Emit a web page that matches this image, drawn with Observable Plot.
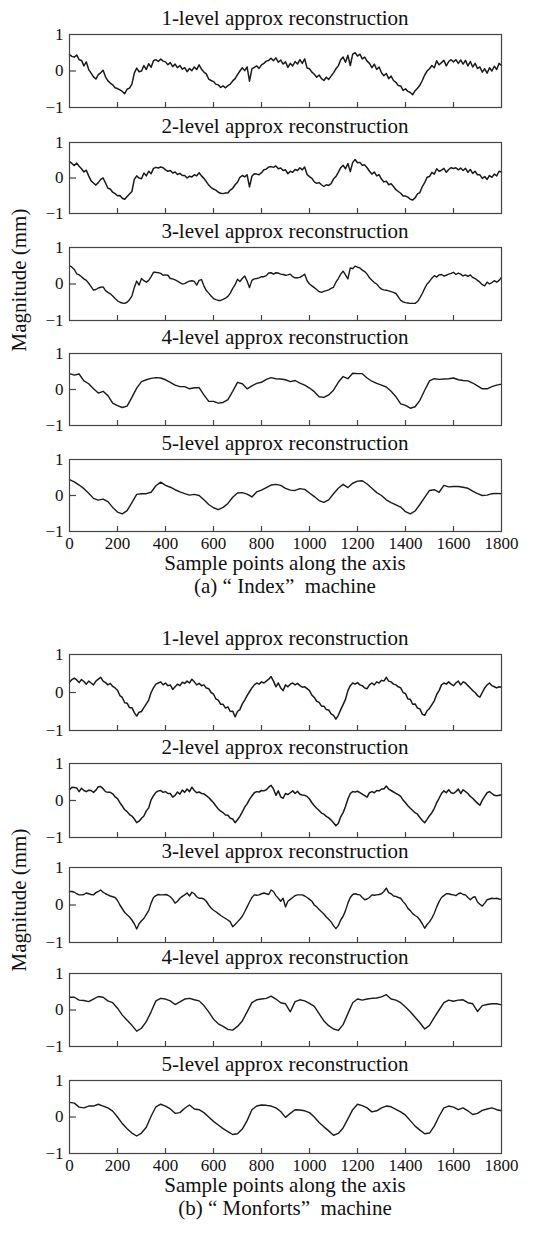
<!DOCTYPE html>
<html><head><meta charset="utf-8">
<script src="https://cdn.jsdelivr.net/npm/d3@7"></script>
<script src="https://cdn.jsdelivr.net/npm/@observablehq/plot@0.6"></script>
<style>
body{margin:0;background:#fff;}
#root{position:relative;width:535px;height:1244px;font-family:"Liberation Serif","Times New Roman",serif;color:#111;overflow:hidden;}
.t{position:absolute;left:0;width:570px;text-align:center;font-size:21px;line-height:20px;white-space:pre;}
.yl{position:absolute;font-size:21px;line-height:20px;white-space:nowrap;transform:translate(-50%,-50%) rotate(-90deg);}
.p{position:absolute;left:0;}
</style></head><body><div id="root"></div>
<script>
const xTicks = [0,200,400,600,800,1000,1200,1400,1600,1800];
const yTicks = [-1,0,1];
const levelTitles = ["1-level approx reconstruction","2-level approx reconstruction","3-level approx reconstruction","4-level approx reconstruction","5-level approx reconstruction"];
const captions = ["(a) \u201c Index\u201d  machine","(b) \u201c Monforts\u201d  machine"];
const xLabel = "Sample points along the axis";
const yLabel = "Magnitude (mm)";

// "Index" machine
const indexL1 = [0.45,0.4,0.38,0.44,0.31,0.29,0.14,0.25,0.04,-0.06,
-0.16,-0.22,-0.1,-0.05,0.02,-0.16,-0.27,-0.33,-0.38,-0.46,
-0.48,-0.52,-0.56,-0.62,-0.5,-0.47,-0.36,-0.06,0.08,-0.02,
0.0,0.15,0.04,0.2,0.1,0.28,0.31,0.26,0.33,0.27,
0.25,0.17,0.23,0.12,0.19,0.09,0.15,0.05,0.09,-0.02,
0.07,0.01,0.11,0.04,0.17,0.05,-0.03,-0.08,-0.22,-0.26,
-0.29,-0.36,-0.38,-0.45,-0.41,-0.46,-0.4,-0.36,-0.27,-0.21,
-0.1,0.0,0.09,0.01,0.11,-0.28,0.06,0.1,0.14,0.07,
0.17,0.21,0.27,0.29,0.35,0.28,0.36,0.24,0.3,0.19,
0.25,0.1,0.21,0.14,0.26,0.19,0.31,0.21,0.33,0.08,
0.06,-0.03,-0.09,-0.17,-0.11,-0.21,-0.26,-0.17,-0.23,-0.14,
-0.05,0.06,0.14,0.31,0.38,0.24,0.43,0.15,0.46,0.5,
0.41,0.46,0.33,0.38,0.27,0.21,0.09,0.19,0.04,0.11,
-0.05,-0.13,-0.07,-0.21,-0.14,-0.26,-0.31,-0.4,-0.41,-0.53,
-0.49,-0.56,-0.59,-0.65,-0.54,-0.47,-0.39,-0.26,-0.11,0.0,
0.06,0.15,0.09,0.28,0.17,0.23,0.29,0.14,0.26,0.31,
0.25,0.31,0.21,0.3,0.19,0.29,0.14,0.26,0.11,0.21,
0.07,0.11,-0.03,0.06,-0.06,0.09,0.0,0.13,0.04,0.21,
0.15];
const indexL2 = [0.46,0.41,0.35,0.42,0.33,0.26,0.17,0.22,0.06,-0.08,
-0.14,-0.2,-0.13,-0.04,0.0,-0.14,-0.29,-0.31,-0.4,-0.44,
-0.5,-0.49,-0.57,-0.6,-0.52,-0.45,-0.38,-0.04,0.06,0.0,
-0.02,0.14,0.06,0.19,0.12,0.27,0.3,0.28,0.31,0.29,
0.23,0.19,0.21,0.14,0.17,0.1,0.13,0.07,0.07,0.0,
0.05,0.03,0.09,0.06,0.15,0.06,-0.01,-0.1,-0.2,-0.27,
-0.31,-0.34,-0.4,-0.43,-0.44,-0.42,-0.42,-0.34,-0.29,-0.19,
-0.12,0.02,0.07,0.03,0.09,-0.25,0.05,0.12,0.11,0.09,
0.15,0.23,0.25,0.31,0.32,0.3,0.34,0.26,0.28,0.21,
0.23,0.12,0.19,0.16,0.24,0.21,0.29,0.23,0.31,0.1,
0.04,-0.01,-0.11,-0.15,-0.13,-0.19,-0.24,-0.19,-0.21,-0.16,
-0.03,0.04,0.16,0.29,0.36,0.26,0.41,0.18,0.44,0.52,
0.43,0.44,0.36,0.37,0.29,0.19,0.11,0.17,0.06,0.09,
-0.03,-0.11,-0.09,-0.19,-0.16,-0.24,-0.33,-0.38,-0.43,-0.51,
-0.51,-0.54,-0.6,-0.62,-0.56,-0.45,-0.41,-0.24,-0.13,0.02,
0.04,0.16,0.11,0.26,0.19,0.22,0.27,0.16,0.24,0.29,
0.27,0.29,0.23,0.28,0.21,0.27,0.16,0.24,0.13,0.19,
0.09,0.09,-0.01,0.04,-0.04,0.07,0.02,0.11,0.06,0.19,
0.17];
const indexL3 = [0.5,0.46,0.4,0.28,0.25,0.2,0.14,0.1,0.02,-0.07,
-0.17,-0.15,-0.11,-0.09,-0.08,-0.18,-0.23,-0.27,-0.33,-0.4,
-0.46,-0.5,-0.52,-0.53,-0.5,-0.43,-0.33,-0.1,0.08,-0.03,
0.15,0.09,0.05,0.1,0.2,0.32,0.32,0.31,0.29,0.24,
0.25,0.24,0.15,0.14,0.11,0.08,0.04,0.0,0.01,0.05,
0.08,0.09,0.07,-0.03,0.1,0.12,-0.05,-0.18,-0.25,-0.33,
-0.4,-0.43,-0.45,-0.45,-0.42,-0.39,-0.34,-0.25,-0.12,-0.02,
0.13,0.07,0.15,0.22,0.08,-0.1,0.1,0.14,0.15,0.17,
0.2,0.2,0.23,0.3,0.31,0.27,0.31,0.3,0.27,0.26,
0.24,0.25,0.27,0.2,0.17,0.17,0.18,0.22,0.27,0.09,
0.0,-0.05,-0.1,-0.15,-0.21,-0.23,-0.2,-0.18,-0.16,-0.12,
-0.09,0.05,0.15,0.27,0.35,0.25,0.14,0.44,0.42,0.49,
0.46,0.44,0.38,0.34,0.27,0.17,0.1,0.04,0.0,-0.08,
-0.14,-0.16,-0.17,-0.19,-0.21,-0.23,-0.26,-0.35,-0.45,-0.49,
-0.51,-0.52,-0.53,-0.53,-0.53,-0.48,-0.38,-0.26,-0.12,0.0,
0.07,0.16,0.23,0.19,0.25,0.26,0.22,0.24,0.27,0.29,
0.32,0.26,0.3,0.27,0.22,0.25,0.21,0.25,0.18,0.15,
0.1,0.05,-0.02,-0.05,0.05,0.0,0.04,0.09,0.05,0.1,
0.18];
const indexL4 = [0.44,0.4,0.43,0.24,0.16,0.02,-0.1,-0.05,-0.17,-0.38,
-0.45,-0.5,-0.46,-0.22,0.04,0.22,0.27,0.31,0.33,0.32,
0.27,0.2,0.12,0.08,0.08,0.02,0.05,0.05,-0.15,-0.33,
-0.33,-0.38,-0.36,-0.28,-0.05,0.2,0.16,0.02,0.1,0.17,
0.2,0.28,0.33,0.3,0.29,0.27,0.22,0.25,0.18,0.12,
0.04,-0.06,-0.2,-0.22,-0.15,-0.02,0.2,0.36,0.3,0.45,
0.44,0.44,0.32,0.23,0.17,0.12,0.07,-0.05,-0.2,-0.4,
-0.44,-0.52,-0.48,-0.3,-0.02,0.24,0.3,0.28,0.29,0.3,
0.32,0.27,0.25,0.24,0.18,0.1,0.02,0.02,0.08,0.12,
0.15];
const indexL5 = [0.44,0.38,0.29,0.19,0.06,-0.08,-0.13,-0.1,-0.17,-0.33,
-0.46,-0.51,-0.42,-0.2,0.03,0.05,0.05,0.09,0.27,0.37,
0.28,0.23,0.16,0.1,0.05,0.01,0.03,0.0,-0.12,-0.25,
-0.34,-0.39,-0.33,-0.22,-0.05,0.07,0.08,0.04,-0.04,0.1,
0.15,0.22,0.29,0.31,0.28,0.2,0.15,0.14,0.19,0.17,
0.07,-0.03,-0.14,-0.19,-0.12,0.05,0.2,0.31,0.22,0.34,
0.4,0.41,0.32,0.2,0.08,0.0,-0.12,-0.2,-0.26,-0.32,
-0.45,-0.51,-0.43,-0.25,-0.05,0.14,0.16,0.09,0.28,0.24,
0.25,0.25,0.23,0.2,0.12,0.05,0.0,0.01,0.05,0.06,
0.05];

// "Monforts" machine
const monfortsL1 = [0.27,0.34,0.38,0.33,0.26,0.34,0.29,0.22,0.3,0.25,
0.2,0.3,0.35,0.4,0.3,0.26,0.2,0.24,0.16,0.12,
0.06,-0.08,-0.13,-0.27,-0.28,-0.4,-0.4,-0.53,-0.62,-0.52,
-0.5,-0.4,-0.3,-0.2,0.0,0.12,0.22,0.25,0.28,0.2,
0.25,0.18,0.2,0.08,0.15,0.22,0.18,0.27,0.24,0.3,
0.25,0.35,0.28,0.2,0.24,0.18,0.2,0.12,0.1,0.0,
-0.04,-0.17,-0.2,-0.31,-0.31,-0.41,-0.38,-0.5,-0.49,-0.64,
-0.5,-0.45,-0.3,-0.2,-0.08,0.02,0.12,0.2,0.25,0.22,
0.28,0.25,0.3,0.35,0.42,0.3,0.15,0.25,0.12,0.05,
0.2,0.15,0.22,0.25,0.2,0.24,0.18,0.14,0.15,0.1,
0.05,-0.07,-0.13,-0.23,-0.26,-0.36,-0.36,-0.45,-0.46,-0.56,
-0.6,-0.7,-0.6,-0.45,-0.32,-0.18,0.05,0.18,0.25,0.22,
0.26,0.2,0.18,0.12,0.1,0.2,0.25,0.2,0.28,0.25,
0.32,0.3,0.4,0.3,0.28,0.22,0.2,0.15,0.12,0.0,
-0.03,-0.17,-0.18,-0.31,-0.3,-0.41,-0.43,-0.57,-0.6,-0.48,
-0.42,-0.32,-0.22,-0.05,0.05,0.2,0.25,0.22,0.28,0.22,
0.18,0.25,0.3,0.2,0.28,0.25,0.18,0.12,0.05,0.0,
-0.08,-0.12,0.0,0.12,0.2,0.25,0.18,0.15,0.12,0.15,
0.14];
const monfortsL2 = [0.29,0.36,0.35,0.34,0.24,0.33,0.27,0.24,0.28,0.27,
0.22,0.28,0.37,0.38,0.32,0.24,0.22,0.22,0.18,0.1,
0.05,-0.06,-0.15,-0.25,-0.3,-0.38,-0.42,-0.5,-0.6,-0.56,
-0.48,-0.42,-0.28,-0.2,0.02,0.13,0.22,0.26,0.27,0.22,
0.24,0.19,0.19,0.09,0.14,0.23,0.17,0.28,0.22,0.31,
0.24,0.36,0.27,0.21,0.23,0.19,0.18,0.13,0.08,0.01,
-0.06,-0.15,-0.23,-0.29,-0.33,-0.39,-0.4,-0.48,-0.5,-0.6,
-0.52,-0.43,-0.31,-0.18,-0.09,0.03,0.12,0.21,0.24,0.23,
0.27,0.26,0.29,0.36,0.41,0.31,0.14,0.26,0.1,0.06,
0.19,0.16,0.21,0.26,0.19,0.25,0.17,0.15,0.14,0.11,
0.04,-0.06,-0.14,-0.21,-0.27,-0.34,-0.37,-0.43,-0.47,-0.53,
-0.6,-0.68,-0.62,-0.44,-0.33,-0.16,0.04,0.19,0.24,0.23,
0.25,0.21,0.17,0.13,0.09,0.21,0.24,0.21,0.27,0.26,
0.31,0.31,0.39,0.31,0.27,0.23,0.19,0.16,0.11,0.01,
-0.06,-0.14,-0.21,-0.27,-0.33,-0.37,-0.46,-0.54,-0.6,-0.51,
-0.41,-0.33,-0.21,-0.06,0.06,0.19,0.26,0.21,0.29,0.21,
0.19,0.24,0.31,0.19,0.29,0.24,0.19,0.11,0.06,-0.01,
-0.07,-0.13,0.01,0.11,0.21,0.24,0.19,0.14,0.13,0.14,
0.15];
const monfortsL3 = [0.36,0.36,0.34,0.3,0.27,0.27,0.28,0.32,0.3,0.28,
0.27,0.33,0.36,0.4,0.34,0.3,0.27,0.24,0.22,0.2,
0.12,0.0,-0.1,-0.2,-0.26,-0.32,-0.4,-0.5,-0.64,-0.5,
-0.42,-0.36,-0.25,-0.15,0.05,0.2,0.25,0.28,0.27,0.27,
0.28,0.26,0.22,0.15,0.05,0.1,0.18,0.23,0.27,0.32,
0.24,0.34,0.3,0.22,0.18,0.18,0.16,0.1,0.0,-0.08,
-0.14,-0.18,-0.23,-0.28,-0.32,-0.36,-0.4,-0.45,-0.58,-0.52,
-0.45,-0.38,-0.3,-0.18,-0.05,0.08,0.2,0.27,0.26,0.27,
0.3,0.32,0.3,0.28,0.4,0.36,0.25,0.18,0.1,0.18,
-0.05,0.1,0.15,0.2,0.25,0.27,0.27,0.27,0.24,0.2,
0.15,0.1,0.0,-0.05,-0.12,-0.18,-0.24,-0.32,-0.38,-0.45,
-0.55,-0.63,-0.55,-0.4,-0.3,-0.15,0.05,0.2,0.28,0.3,
0.28,0.27,0.2,0.14,0.16,0.2,0.27,0.26,0.27,0.28,
0.3,0.36,0.45,0.33,0.3,0.24,0.23,0.2,0.18,0.09,
0.02,-0.09,-0.15,-0.23,-0.28,-0.32,-0.4,-0.5,-0.62,-0.52,
-0.45,-0.35,-0.22,-0.05,0.09,0.2,0.25,0.3,0.3,0.28,
0.27,0.25,0.3,0.32,0.28,0.27,0.2,0.14,0.2,0.22,
0.08,0.02,-0.03,0.05,0.14,0.16,0.18,0.17,0.18,0.16,
0.15];
const monfortsL4 = [0.35,0.35,0.27,0.26,0.23,0.3,0.37,0.35,0.25,0.2,
0.05,-0.14,-0.28,-0.42,-0.58,-0.5,-0.32,-0.05,0.25,0.32,
0.3,0.25,0.15,0.22,0.3,0.32,0.28,0.25,0.12,-0.05,
-0.25,-0.38,-0.45,-0.53,-0.55,-0.45,-0.3,-0.05,0.2,0.28,
0.3,0.32,0.38,0.3,0.2,0.17,-0.05,0.23,0.28,0.25,
0.18,0.1,-0.1,-0.3,-0.43,-0.52,-0.56,-0.4,-0.1,0.2,
0.3,0.27,0.3,0.32,0.33,0.36,0.42,0.3,0.27,0.2,
0.08,-0.05,-0.2,-0.35,-0.52,-0.42,-0.2,0.0,0.2,0.27,
0.24,0.27,0.28,0.2,0.17,-0.04,0.12,0.15,0.17,0.17,
0.14];
const monfortsL5 = [0.4,0.38,0.27,0.25,0.3,0.3,0.35,0.3,0.25,0.16,
0.0,-0.18,-0.32,-0.44,-0.52,-0.44,-0.28,0.02,0.28,0.35,
0.3,0.22,0.1,0.12,0.24,0.33,0.22,0.2,0.12,0.0,
-0.12,-0.22,-0.32,-0.4,-0.48,-0.46,-0.33,-0.1,0.2,0.3,
0.33,0.32,0.3,0.25,0.15,-0.01,0.1,0.2,0.19,0.17,
0.12,0.0,-0.15,-0.27,-0.38,-0.5,-0.45,-0.3,-0.05,0.2,
0.35,0.31,0.25,0.14,0.17,0.25,0.3,0.28,0.21,0.14,
0.05,-0.1,-0.25,-0.36,-0.46,-0.44,-0.25,0.02,0.25,0.3,
0.27,0.2,0.25,0.17,0.07,0.1,0.18,0.22,0.25,0.2,
0.17];

const FONT = '"Liberation Serif","Times New Roman",serif';
const X0 = 69, X1 = 501, W = 535;
const fmt = d => (d < 0 ? "\u2212" : "") + String(Math.abs(d));
const groups = [
  {series:[indexL1,indexL2,indexL3,indexL4,indexL5], tops:[34,142,247,353,459], bottoms:[107,213,320,425,531], caption:captions[0], ylabelY:280},
  {series:[monfortsL1,monfortsL2,monfortsL3,monfortsL4,monfortsL5], tops:[654,763,867,973,1080], bottoms:[730,837,942,1046,1153], caption:captions[1], ylabelY:900}
];
const root = document.getElementById("root");
function addText(cls, text, cy, extra) {
  const d = document.createElement("div");
  d.className = cls; d.textContent = text;
  d.style.top = (cy - 10) + "px";
  if (extra) Object.assign(d.style, extra);
  root.appendChild(d);
  return d;
}
function toRows(values) {
  return values.map((y, i) => ({x: i * 1800 / (values.length - 1), y}));
}
groups.forEach(g => {
  g.series.forEach((vals, j) => {
    const top = g.tops[j], bottom = g.bottoms[j], h = bottom - top;
    const isLast = j === 4;
    const mt = 4, mb = isLast ? 30 : 4;
    const marks = [
      Plot.line(toRows(vals), {x: "x", y: "y", stroke: "#1a1a1a", strokeWidth: j < 2 ? 1.5 : 1.4}),
      Plot.frame({stroke: "#444", strokeWidth: 1.2}),
      Plot.tickX(xTicks.slice(1, -1), {x: d => d, insetTop: h - 5, stroke: "#444", strokeWidth: 1.2}),
      Plot.tickY([0], {y: d => d, insetRight: (X1 - X0) - 7, stroke: "#444", strokeWidth: 1.2}),
      Plot.axisY({ticks: yTicks, tickSize: 0, tickPadding: 6, tickFormat: fmt, label: null, fontSize: 17})
    ];
    if (isLast) marks.push(Plot.axisX({ticks: xTicks, tickSize: 0, tickPadding: 5, tickFormat: fmt, label: null, fontSize: 17}));
    const chart = Plot.plot({
      width: W, height: h + mt + mb,
      marginLeft: X0, marginRight: W - X1, marginTop: mt, marginBottom: mb,
      x: {domain: [0, 1800], label: null, axis: isLast ? undefined : null},
      y: {domain: [-1, 1], label: null},
      style: {fontFamily: FONT, fontSize: "17px", color: "#111", background: "transparent", overflow: "visible"},
      marks
    });
    const wrap = document.createElement("div");
    wrap.className = "p";
    wrap.style.top = (top - mt) + "px";
    wrap.appendChild(chart);
    root.appendChild(wrap);
    addText("t", levelTitles[j], top - 16);
  });
  const last = g.bottoms[4];
  addText("t", xLabel, last + 32);
  addText("t", g.caption, last + 55, {fontSize: "21px"});
  const yl = document.createElement("div");
  yl.className = "yl"; yl.textContent = yLabel;
  yl.style.left = "19px"; yl.style.top = g.ylabelY + "px";
  root.appendChild(yl);
});
</script></body></html>
